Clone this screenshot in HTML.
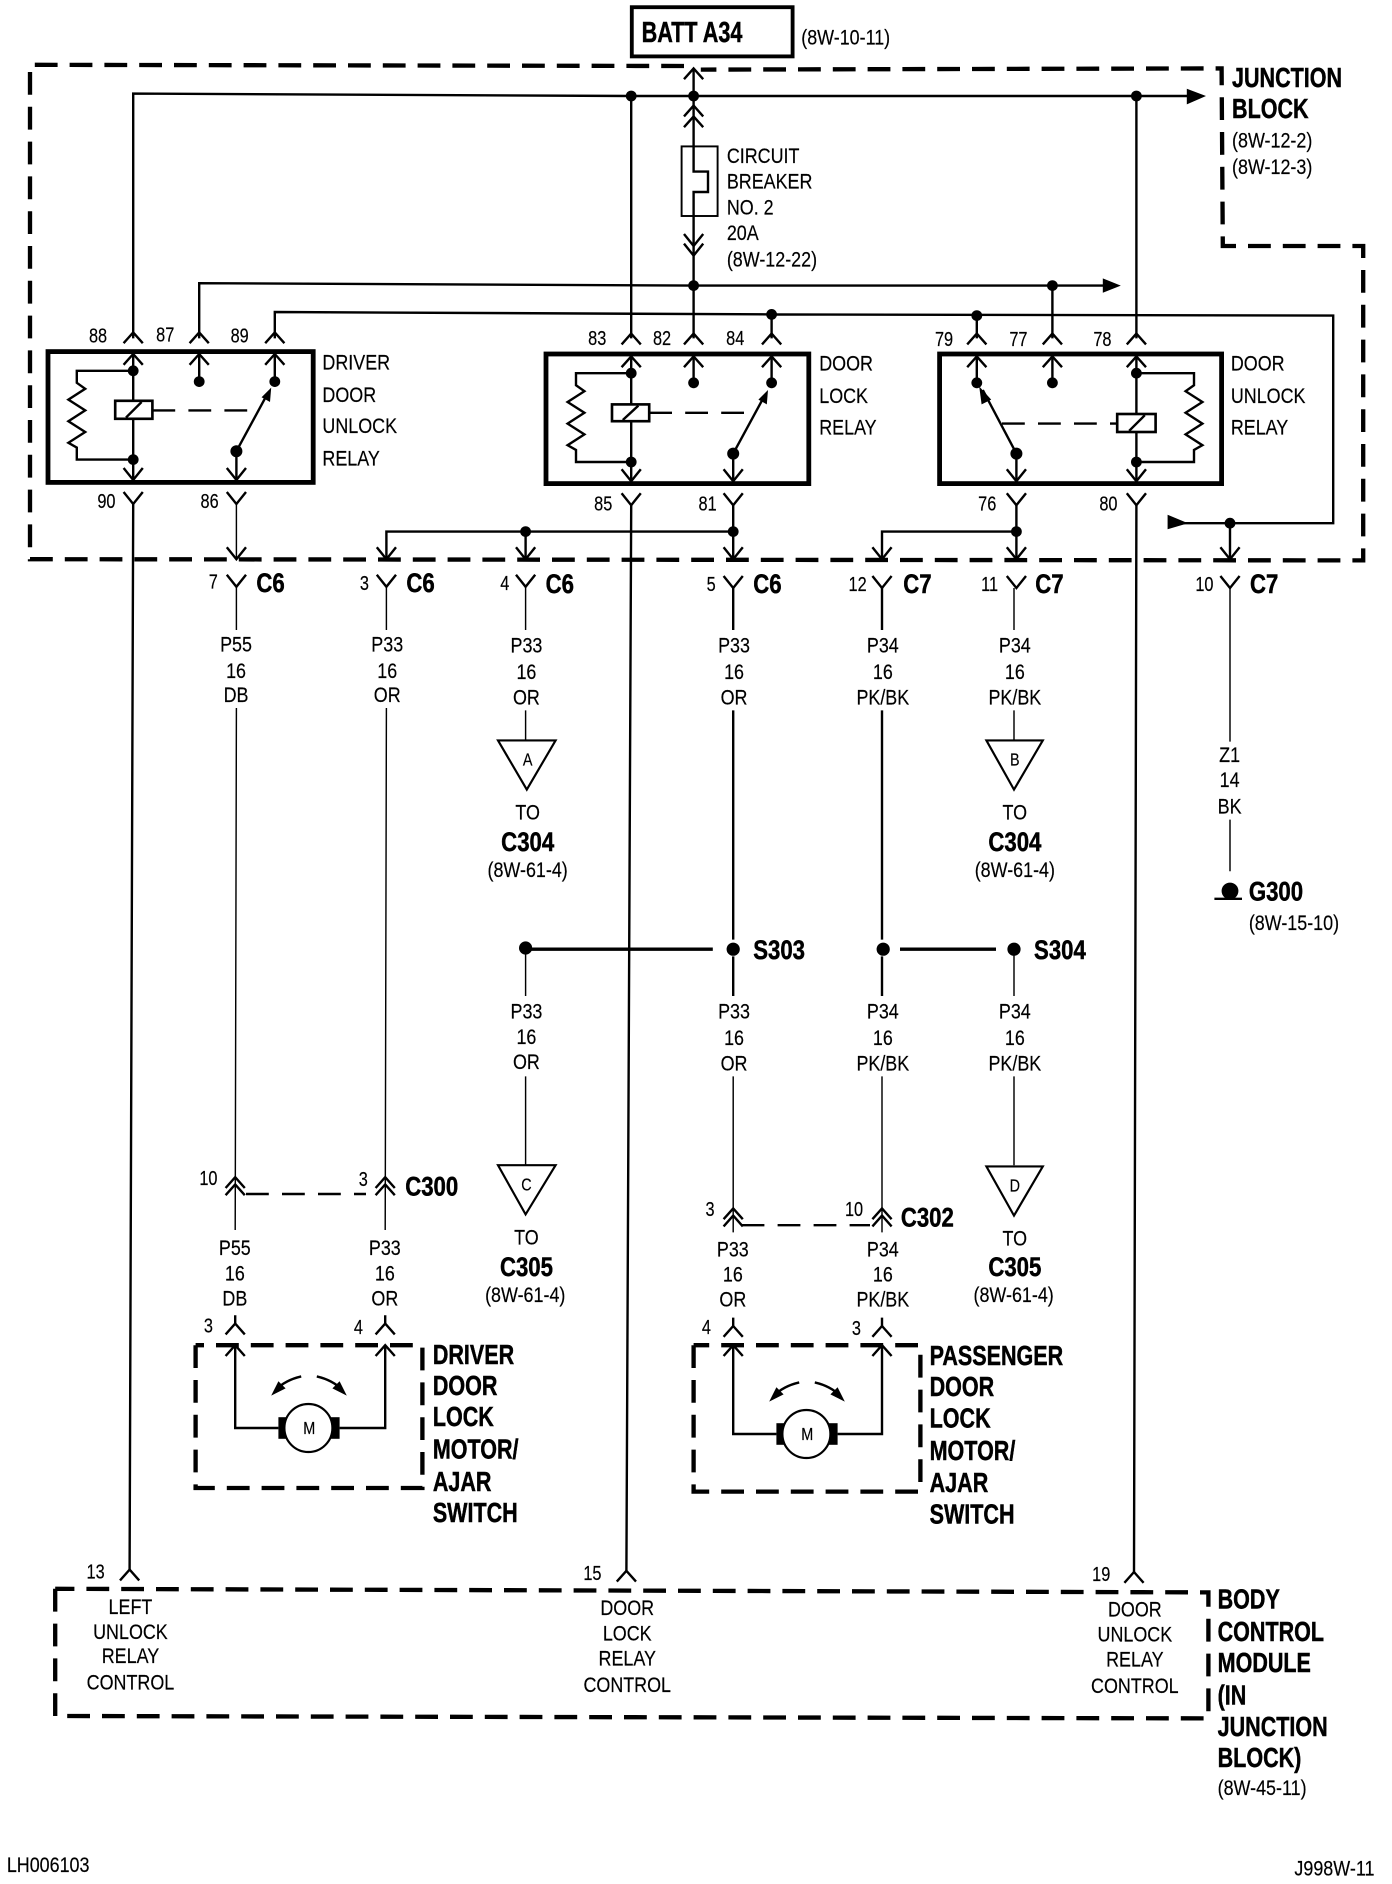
<!DOCTYPE html>
<html><head><meta charset="utf-8"><style>
html,body{margin:0;padding:0;background:#fff}
svg{display:block}
text{font-family:"Liberation Sans",sans-serif;fill:#000;stroke:#000;stroke-width:.15;dominant-baseline:central;transform-box:fill-box}
.r{font-size:18px;transform:translate(.7px,1.5px) scaleX(.83);transform-origin:0 50%}
.c{font-size:18px;text-anchor:middle;transform:translate(.7px,1.5px) scaleX(.83);transform-origin:50% 50%}
.b{font-size:23px;font-weight:bold;stroke-width:.4;transform:translate(.7px,1.5px) scaleX(.78);transform-origin:0 50%}
.bs{font-size:22px;font-weight:bold;stroke-width:.4;transform:translate(.7px,1.5px) scaleX(.84);transform-origin:0 50%}
.bc{font-size:22px;font-weight:bold;stroke-width:.4;text-anchor:middle;transform:translate(.7px,1.5px) scaleX(.84);transform-origin:50% 50%}
.t{font-size:17px;text-anchor:middle;transform:translate(.7px,1.5px) scaleX(.8);transform-origin:50% 50%}
.w{fill:none;stroke:#000;stroke-width:2}
.th{fill:none;stroke:#000;stroke-width:1.2}
.hv{fill:none;stroke:#000;stroke-width:2.8}
.d{fill:none;stroke:#000;stroke-width:3.6;stroke-dasharray:19 10}
.ds{fill:none;stroke:#000;stroke-width:2;stroke-dasharray:19 11}
.box{fill:none;stroke:#000;stroke-width:4}
</style></head><body>
<svg xmlns="http://www.w3.org/2000/svg" width="1392" height="1884" viewBox="0 0 1160 1570">
<defs>
<path id="up" d="M-8,9L0,0L8,9" fill="none" stroke="#000" stroke-width="2"/>
<path id="dn" d="M-8,-10L0,0L8,-10" fill="none" stroke="#000" stroke-width="2"/>
</defs>

<!-- battery -->
<rect x="526.5" y="6" width="134" height="41" fill="none" stroke="#000" stroke-width="3.2"/>
<text class="b" style="font-size:24px;transform:translate(.7px,1.5px) scaleX(.75)" x="534" y="26">BATT A34</text>
<text class="r" x="667" y="30">(8W-10-11)</text>

<!-- junction block -->
<path class="d" d="M570,55L25,54L25,466L1136,467L1136,205L1019,205L1018,57L584,58"/>
<text class="b" x="1026" y="64">JUNCTION</text>
<text class="b" x="1026" y="90">BLOCK</text>
<text class="r" x="1026" y="116">(8W-12-2)</text>
<text class="r" x="1026" y="138">(8W-12-3)</text>

<!-- top buses -->
<path class="w" d="M111,282L111,78L526,80L990,80"/>
<polygon points="989,74 1005,80 989,87"/>
<path class="w" d="M526,80L526,282M947,80L947,282"/>
<path class="w" d="M578,57L578,122"/>
<use href="#up" x="578" y="57"/><use href="#up" x="578" y="88"/><use href="#up" x="578" y="97"/>
<circle cx="526" cy="80" r="4.5"/><circle cx="578" cy="80" r="4.5"/><circle cx="947" cy="80" r="4.5"/>

<!-- breaker -->
<rect x="568" y="122" width="30" height="58" fill="none" stroke="#000" stroke-width="1.6"/>
<path class="w" d="M578,122L578,143L590,143L590,160L578,160L578,282"/>
<use href="#dn" x="578" y="205"/><use href="#dn" x="578" y="213"/>
<text class="r" x="605" y="129">CIRCUIT</text>
<text class="r" x="605" y="150">BREAKER</text>
<text class="r" x="605" y="172">NO. 2</text>
<text class="r" x="605" y="193">20A</text>
<text class="r" x="605" y="215">(8W-12-22)</text>

<path class="w" d="M166,282L166,236L578,238L920,238M877,238L877,282"/>
<polygon points="919,232 934,238 919,244"/>
<circle cx="578" cy="238" r="4.5"/><circle cx="877" cy="238" r="4.5"/>

<path class="w" d="M229,282L229,260L643,262L1111,263L1111,436L985,436M643,262L643,282M814,262L814,282M1025,436L1025,466"/>
<circle cx="643" cy="262" r="4.5"/><circle cx="814" cy="263" r="4.5"/><circle cx="1025" cy="436" r="4.5"/>
<polygon points="973,429 990,436 973,441"/>
<use href="#dn" x="1025" y="466"/>

<!-- pin chevrons above boxes -->
<use href="#up" x="111" y="277"/><use href="#up" x="166" y="277"/><use href="#up" x="229" y="277"/>
<use href="#up" x="526" y="278"/><use href="#up" x="578" y="278"/><use href="#up" x="643" y="278"/>
<use href="#up" x="814" y="278"/><use href="#up" x="877" y="278"/><use href="#up" x="947" y="278"/>
<text class="t" x="81" y="278">88</text><text class="t" x="137" y="277">87</text><text class="t" x="199" y="278">89</text>
<text class="t" x="497" y="280">83</text><text class="t" x="551" y="280">82</text><text class="t" x="612" y="280">84</text>
<text class="t" x="786" y="281">79</text><text class="t" x="848" y="281">77</text><text class="t" x="918" y="281">78</text>

<!-- relay 1 -->
<rect class="box" x="40" y="293" width="221" height="109"/>
<use href="#up" x="111" y="295"/><use href="#up" x="166" y="295"/><use href="#up" x="229" y="295"/>
<path class="w" d="M111,295L111,400M166,295L166,318M229,295L229,318M197,376L197,400"/>
<use href="#dn" x="111" y="400"/><use href="#dn" x="197" y="400"/>
<circle cx="111" cy="309" r="4.5"/><circle cx="111" cy="383" r="4.5"/><circle cx="166" cy="318" r="4.5"/><circle cx="229" cy="318" r="4.5"/><circle cx="197" cy="376" r="5"/>
<path class="w" d="M111,309L64,309L64,319L71,324L57,333L71,342L57,351L71,360L57,369L64,373L64,383L111,383"/>
<rect x="96" y="334" width="31" height="15" fill="#fff" stroke="#000" stroke-width="2.2"/>
<path class="w" d="M105,348L118,335"/>
<path class="ds" d="M127,342L207,342"/>
<path class="w" d="M197,376L223,328"/>
<polygon points="226,323 225,335 218,331"/>
<text class="r" x="268" y="301">DRIVER</text><text class="r" x="268" y="328">DOOR</text><text class="r" x="268" y="354">UNLOCK</text><text class="r" x="268" y="381">RELAY</text>

<!-- relay 2 -->
<rect class="box" x="455" y="295" width="219" height="108"/>
<use href="#up" x="526" y="297"/><use href="#up" x="578" y="297"/><use href="#up" x="643" y="297"/>
<path class="w" d="M526,297L526,400M578,297L578,319M643,297L643,319M611,378L611,401"/>
<use href="#dn" x="526" y="401"/><use href="#dn" x="611" y="401"/>
<circle cx="526" cy="311" r="4.5"/><circle cx="526" cy="385" r="4.5"/><circle cx="578" cy="319" r="4.5"/><circle cx="643" cy="319" r="4.5"/><circle cx="611" cy="378" r="5"/>
<path class="w" d="M526,311L480,311L480,321L487,326L473,335L487,344L473,353L487,362L473,371L480,375L480,385L526,385"/>
<rect x="510" y="337" width="31" height="14" fill="#fff" stroke="#000" stroke-width="2.2"/>
<path class="w" d="M519,350L532,338"/>
<path class="ds" d="M541,344L622,344"/>
<path class="w" d="M611,378L637,330"/>
<polygon points="640,325 639,337 632,333"/>
<text class="r" x="682" y="302">DOOR</text><text class="r" x="682" y="329">LOCK</text><text class="r" x="682" y="355">RELAY</text>

<!-- relay 3 -->
<rect class="box" x="783" y="295" width="235" height="108"/>
<use href="#up" x="814" y="297"/><use href="#up" x="877" y="297"/><use href="#up" x="947" y="297"/>
<path class="w" d="M814,297L814,319M877,297L877,319M947,297L947,400M847,378L847,401"/>
<use href="#dn" x="947" y="401"/><use href="#dn" x="847" y="401"/>
<circle cx="814" cy="319" r="4.5"/><circle cx="877" cy="319" r="4.5"/><circle cx="947" cy="311" r="4.5"/><circle cx="947" cy="385" r="4.5"/><circle cx="847" cy="378" r="5"/>
<path class="w" d="M947,311L995,311L995,321L988,326L1002,335L988,344L1002,353L988,362L1002,371L995,375L995,385L947,385"/>
<rect x="931" y="345" width="32" height="15" fill="#fff" stroke="#000" stroke-width="2.2"/>
<path class="w" d="M941,359L954,346"/>
<path class="ds" d="M835,353L931,353"/>
<path class="w" d="M847,378L819,325"/>
<polygon points="816,322 826,333 818,337"/>
<text class="r" x="1025" y="302">DOOR</text><text class="r" x="1025" y="329">UNLOCK</text><text class="r" x="1025" y="355">RELAY</text>

<!-- below relays -->
<use href="#dn" x="111" y="420"/><use href="#dn" x="197" y="420"/><use href="#dn" x="526" y="421"/><use href="#dn" x="611" y="421"/><use href="#dn" x="847" y="421"/><use href="#dn" x="947" y="421"/>
<text class="t" x="88" y="416">90</text><text class="t" x="174" y="416">86</text><text class="t" x="502" y="418">85</text><text class="t" x="589" y="418">81</text><text class="t" x="822" y="418">76</text><text class="t" x="923" y="418">80</text>
<path class="w" d="M111,420L108,1308M526,421L522,1309M947,421L945,1310"/>
<path class="th" d="M197,420L197,466"/>
<path class="w" d="M611,421L611,466M847,421L847,466M322,466L322,443L611,443M438,443L438,466M735,466L735,443L847,443"/>
<circle cx="438" cy="443" r="4.5"/><circle cx="611" cy="443" r="4.5"/><circle cx="847" cy="443" r="4.5"/>
<use href="#dn" x="197" y="466"/><use href="#dn" x="322" y="466"/><use href="#dn" x="438" y="466"/><use href="#dn" x="611" y="466"/><use href="#dn" x="735" y="466"/><use href="#dn" x="847" y="466"/>

<!-- connector row -->
<use href="#dn" x="197" y="489"/><use href="#dn" x="322" y="489"/><use href="#dn" x="438" y="489"/><use href="#dn" x="611" y="490"/><use href="#dn" x="735" y="490"/><use href="#dn" x="847" y="490"/><use href="#dn" x="1025" y="490"/>
<text class="t" x="177" y="483">7</text><text class="t" x="303" y="484">3</text><text class="t" x="420" y="484">4</text><text class="t" x="592" y="485">5</text><text class="t" x="714" y="485">12</text><text class="t" x="824" y="485">11</text><text class="t" x="1003" y="485">10</text>
<text class="bs" x="213" y="485">C6</text><text class="bs" x="338" y="485">C6</text><text class="bs" x="454" y="486">C6</text><text class="bs" x="627" y="486">C6</text><text class="bs" x="752" y="486">C7</text><text class="bs" x="862" y="486">C7</text><text class="bs" x="1041" y="486">C7</text>

<path class="th" d="M197,489L197,525M197,590L196,1025M322,489L322,525M322,590L321,1025M438,489L438,525M438,592L438,617M845,490L845,525M845,592L845,617M1025,490L1025,618M1025,683L1025,726M438,795L438,830M438,897L438,971M845,795L845,830M845,897L845,971"/>
<path class="w" d="M611,490L611,525M611,592L611,783M611,797L611,830M735,490L735,525M735,592L735,783M735,797L735,830"/>
<path class="th" d="M611,897L611,1027M735,897L735,1027"/>

<text class="c" x="196" y="536">P55</text><text class="c" x="196" y="558">16</text><text class="c" x="196" y="578">DB</text>
<text class="c" x="322" y="536">P33</text><text class="c" x="322" y="558">16</text><text class="c" x="322" y="578">OR</text>
<text class="c" x="438" y="537">P33</text><text class="c" x="438" y="559">16</text><text class="c" x="438" y="580">OR</text>
<text class="c" x="611" y="537">P33</text><text class="c" x="611" y="559">16</text><text class="c" x="611" y="580">OR</text>
<text class="c" x="735" y="537">P34</text><text class="c" x="735" y="559">16</text><text class="c" x="735" y="580">PK/BK</text>
<text class="c" x="845" y="537">P34</text><text class="c" x="845" y="559">16</text><text class="c" x="845" y="580">PK/BK</text>
<text class="c" x="1024" y="628">Z1</text><text class="c" x="1024" y="649">14</text><text class="c" x="1024" y="671">BK</text>

<!-- triangles -->
<polygon points="415,617 463,617 439,658" fill="none" stroke="#000" stroke-width="1.8"/>
<text class="t" style="font-size:15px" x="439" y="632">A</text>
<text class="c" x="439" y="676">TO</text><text class="bc" x="439" y="701">C304</text><text class="c" x="439" y="724">(8W-61-4)</text>
<polygon points="822,617 869,617 845,658" fill="none" stroke="#000" stroke-width="1.8"/>
<text class="t" style="font-size:15px" x="845" y="632">B</text>
<text class="c" x="845" y="676">TO</text><text class="bc" x="845" y="701">C304</text><text class="c" x="845" y="724">(8W-61-4)</text>
<polygon points="415,971 463,971 438,1012" fill="none" stroke="#000" stroke-width="1.8"/>
<text class="t" style="font-size:15px" x="438" y="986">C</text>
<text class="c" x="438" y="1030">TO</text><text class="bc" x="438" y="1055">C305</text><text class="c" x="437" y="1078">(8W-61-4)</text>
<polygon points="822,972 869,972 845,1013" fill="none" stroke="#000" stroke-width="1.8"/>
<text class="t" style="font-size:15px" x="845" y="987">D</text>
<text class="c" x="845" y="1031">TO</text><text class="bc" x="845" y="1055">C305</text><text class="c" x="844" y="1078">(8W-61-4)</text>

<!-- ground -->
<circle cx="1025" cy="742.5" r="7"/>
<path class="w" d="M1012,749L1035,749"/>
<text class="bs" x="1040" y="742">G300</text>
<text class="r" x="1040" y="768">(8W-15-10)</text>

<!-- splices -->
<path class="hv" d="M438,791L594,791M750,791L830,791"/>
<circle cx="438" cy="790" r="5.5"/><circle cx="611" cy="791" r="5.5"/><circle cx="736" cy="791" r="5.5"/><circle cx="845" cy="791" r="5.5"/>
<text class="bs" x="627" y="791">S303</text><text class="bs" x="861" y="791">S304</text>
<text class="c" x="438" y="842">P33</text><text class="c" x="438" y="863">16</text><text class="c" x="438" y="884">OR</text>
<text class="c" x="611" y="842">P33</text><text class="c" x="611" y="864">16</text><text class="c" x="611" y="885">OR</text>
<text class="c" x="735" y="842">P34</text><text class="c" x="735" y="864">16</text><text class="c" x="735" y="885">PK/BK</text>
<text class="c" x="845" y="842">P34</text><text class="c" x="845" y="864">16</text><text class="c" x="845" y="885">PK/BK</text>

<!-- C300 -->
<use href="#up" x="196" y="981"/><use href="#up" x="196" y="987"/><use href="#up" x="321" y="981"/><use href="#up" x="321" y="987"/>
<path class="ds" d="M205,995L305,995"/>
<text class="t" x="173" y="980">10</text><text class="t" x="302" y="981">3</text>
<text class="bs" x="337" y="988">C300</text>
<text class="c" x="195" y="1039">P55</text><text class="c" x="195" y="1060">16</text><text class="c" x="195" y="1081">DB</text>
<text class="c" x="320" y="1039">P33</text><text class="c" x="320" y="1060">16</text><text class="c" x="320" y="1081">OR</text>

<!-- C302 -->
<use href="#up" x="611" y="1007"/><use href="#up" x="611" y="1013"/><use href="#up" x="735" y="1007"/><use href="#up" x="735" y="1013"/>
<path class="ds" d="M618,1021L725,1021"/>
<text class="t" x="591" y="1006">3</text><text class="t" x="711" y="1006">10</text>
<text class="bs" x="750" y="1014">C302</text>
<text class="c" x="610" y="1040">P33</text><text class="c" x="610" y="1061">16</text><text class="c" x="610" y="1082">OR</text>
<text class="c" x="735" y="1040">P34</text><text class="c" x="735" y="1061">16</text><text class="c" x="735" y="1082">PK/BK</text>

<!-- driver motor -->
<use href="#up" x="196" y="1103"/><use href="#up" x="321" y="1103"/>
<path class="w" d="M196,1096L196,1103M321,1096L321,1103"/>
<text class="t" x="173" y="1103">3</text><text class="t" x="298" y="1104">4</text>
<path class="d" d="M163,1121L163,1240L352,1240L352,1121L163,1121"/>
<use href="#up" x="196" y="1121"/><use href="#up" x="321" y="1121"/>
<path class="w" d="M196,1121L196,1190L232,1190M321,1121L321,1190L283,1190"/>
<rect x="232" y="1181" width="8" height="18"/><rect x="275" y="1181" width="8" height="18"/>
<circle cx="257" cy="1190" r="20" fill="#fff" stroke="#000" stroke-width="1.8"/>
<text class="t" style="font-size:15px" x="257" y="1189">M</text>
<path class="w" d="M251,1147Q238,1150 230,1158M264,1147Q277,1150 285,1158"/>
<polygon points="226,1163 232,1151 238,1157"/><polygon points="289,1163 283,1151 277,1157"/>
<text class="b" x="360" y="1128">DRIVER</text><text class="b" x="360" y="1154">DOOR</text><text class="b" x="360" y="1180">LOCK</text><text class="b" x="360" y="1207">MOTOR/</text><text class="b" x="360" y="1234">AJAR</text><text class="b" x="360" y="1260">SWITCH</text>

<!-- passenger motor -->
<use href="#up" x="611" y="1105"/><use href="#up" x="735" y="1105"/>
<path class="w" d="M611,1098L611,1105M735,1098L735,1105"/>
<text class="t" x="588" y="1104">4</text><text class="t" x="713" y="1105">3</text>
<path class="d" d="M578,1121L578,1243L767,1243L767,1121L578,1121"/>
<use href="#up" x="611" y="1121"/><use href="#up" x="735" y="1121"/>
<path class="w" d="M611,1121L611,1195L647,1195M735,1121L735,1195L698,1195"/>
<rect x="647" y="1186" width="8" height="18"/><rect x="690" y="1186" width="8" height="18"/>
<circle cx="672" cy="1195" r="20" fill="#fff" stroke="#000" stroke-width="1.8"/>
<text class="t" style="font-size:15px" x="672" y="1194">M</text>
<path class="w" d="M666,1152Q653,1155 645,1163M679,1152Q692,1155 700,1163"/>
<polygon points="641,1168 647,1156 653,1162"/><polygon points="704,1168 698,1156 692,1162"/>
<text class="b" x="774" y="1129">PASSENGER</text><text class="b" x="774" y="1155">DOOR</text><text class="b" x="774" y="1181">LOCK</text><text class="b" x="774" y="1208">MOTOR/</text><text class="b" x="774" y="1235">AJAR</text><text class="b" x="774" y="1261">SWITCH</text>

<!-- BCM -->
<use href="#up" x="108" y="1308"/><use href="#up" x="522" y="1309"/><use href="#up" x="945" y="1310"/>
<text class="t" x="79" y="1308">13</text><text class="t" x="493" y="1309">15</text><text class="t" x="917" y="1310">19</text>
<path class="d" d="M46,1324L46,1430L1007,1432L1007,1327L46,1324"/>
<text class="c" x="108" y="1338">LEFT</text><text class="c" x="108" y="1359">UNLOCK</text><text class="c" x="108" y="1379">RELAY</text><text class="c" x="108" y="1401">CONTROL</text>
<text class="c" x="522" y="1339">DOOR</text><text class="c" x="522" y="1360">LOCK</text><text class="c" x="522" y="1381">RELAY</text><text class="c" x="522" y="1403">CONTROL</text>
<text class="c" x="945" y="1340">DOOR</text><text class="c" x="945" y="1361">UNLOCK</text><text class="c" x="945" y="1382">RELAY</text><text class="c" x="945" y="1404">CONTROL</text>
<text class="b" x="1014" y="1332">BODY</text><text class="b" x="1014" y="1359">CONTROL</text><text class="b" x="1014" y="1385">MODULE</text><text class="b" x="1014" y="1412">(IN</text><text class="b" x="1014" y="1438">JUNCTION</text><text class="b" x="1014" y="1464">BLOCK)</text>
<text class="r" x="1014" y="1489">(8W-45-11)</text>

<text class="r" x="5" y="1553">LH006103</text>
<text class="r" x="1078" y="1556">J998W-11</text>
</svg>
</body></html>
